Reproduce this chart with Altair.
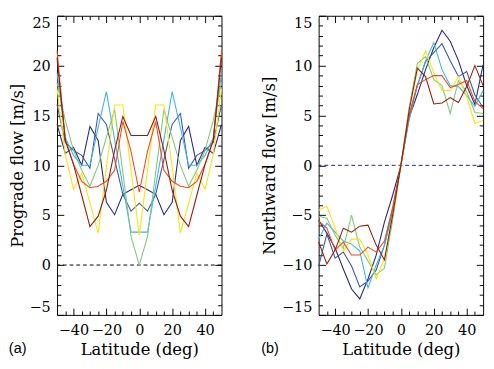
import altair as alt
import pandas as pd

LAT = [-50, -45, -40, -35, -30, -25, -20, -15, -10, -5, 0,
       5, 10, 15, 20, 25, 30, 35, 40, 45, 50]
SERIES = ["c1", "c2", "c3", "c4", "c5", "c6", "c7"]
COLORS = ["#262673", "#3b55a8", "#3cb4e6", "#7fc67f", "#fbe212", "#ee4a1e", "#8f1c0c"]

# Panel (a): prograde flow [m/s]
PRO_1 = [14.1, 11.2, 11.8, 10.0, 13.9, 12.5, 6.3, 5.05, 7.1, 7.55, 8.0,
         7.55, 7.1, 5.05, 6.3, 12.5, 13.9, 10.0, 11.8, 11.2, 14.1]
PRO_2 = [16.1, 12.3, 11.5, 11.0, 9.7, 15.2, 14.1, 10.6, 7.1, 5.4, 6.2,
         5.4, 7.1, 10.6, 14.1, 15.2, 9.7, 11.0, 11.5, 12.3, 16.1]
PRO_3 = [19.3, 12.8, 11.0, 10.0, 10.0, 13.8, 17.4, 12.6, 7.9, 3.3, 3.3,
         3.3, 7.9, 12.6, 17.4, 13.8, 10.0, 10.0, 11.0, 12.8, 19.3]
PRO_4 = [18.3, 14.5, 11.5, 9.5, 7.9, 10.0, 12.8, 15.6, 9.3, 2.85, 0.0,
         2.85, 9.3, 15.6, 12.8, 10.0, 7.9, 9.5, 11.5, 14.5, 18.3]
PRO_5 = [17.7, 11.1, 7.6, 9.2, 6.2, 3.2, 9.8, 16.05, 16.05, 9.5, 3.0,
         9.5, 16.05, 16.05, 9.8, 3.2, 6.2, 9.2, 7.6, 11.1, 17.7]
PRO_6 = [21.5, 12.6, 10.1, 8.4, 7.75, 7.9, 8.4, 9.5, 14.4, 11.4, 7.3,
         11.4, 14.4, 9.5, 8.4, 7.9, 7.75, 8.4, 10.1, 12.6, 21.5]
PRO_7 = [20.8, 12.5, 10.1, 7.0, 3.85, 4.9, 7.5, 11.5, 14.9, 13.0, 13.0,
         13.0, 14.9, 11.5, 7.5, 4.9, 3.85, 7.0, 10.1, 12.5, 20.8]

# Panel (b): northward flow [m/s]
NOR_1 = [-5.5, -6.8, -8.3, -10.4, -12.4, -13.4, -11.4, -9.0, -5.7, -3.0, 0.0,
         4.8, 7.1, 9.6, 11.8, 13.55, 12.45, 10.5, 8.0, 6.1, 10.1]
NOR_2 = [-10.1, -6.9, -9.3, -8.7, -10.1, -12.2, -11.6, -10.5, -8.0, -4.5, 0.0,
         5.0, 8.0, 10.4, 11.3, 12.2, 10.5, 8.9, 9.4, 7.05, 5.8]
NOR_3 = [-7.4, -5.8, -6.7, -7.6, -7.9, -8.6, -12.3, -10.0, -8.0, -4.8, 0.0,
         4.5, 8.0, 10.5, 12.3, 9.6, 8.0, 7.9, 7.0, 5.9, 7.5]
NOR_4 = [-5.1, -5.3, -7.0, -8.3, -5.0, -8.2, -9.6, -11.0, -10.3, -5.5, 0.0,
         5.8, 10.2, 10.9, 8.6, 8.0, 5.2, 8.5, 7.4, 5.3, 5.2]
NOR_5 = [-4.5, -4.1, -6.3, -8.6, -7.4, -7.4, -9.0, -11.4, -9.3, -5.0, 0.0,
         5.5, 9.5, 11.5, 9.3, 7.5, 7.5, 8.9, 6.9, 4.2, 4.5]
NOR_6 = [-5.6, -6.3, -8.5, -7.7, -9.0, -9.0, -8.2, -8.7, -7.6, -4.2, 0.0,
         5.0, 8.1, 8.6, 9.0, 9.0, 7.8, 8.1, 8.5, 6.4, 5.7]
NOR_7 = [-7.7, -9.9, -8.5, -6.3, -6.7, -6.1, -6.0, -8.0, -9.5, -5.0, 0.0,
         5.5, 9.75, 8.9, 6.15, 6.25, 6.8, 6.3, 7.9, 10.0, 8.0]

X_MAJOR = [-40, -20, 0, 20, 40]
X_MINOR = [-45, -35, -30, -25, -15, -10, -5, 5, 10, 15, 25, 30, 35, 45]

SERIF = "DejaVu Serif"
SANS = "Liberation Sans"
W, H = 171, 311
MAJ, MIN = 7, 4


def long_df(series_vals):
    rows = []
    for name, vals in zip(SERIES, series_vals):
        for la, v in zip(LAT, vals):
            rows.append({"lat": la, "v": v, "series": name})
    return pd.DataFrame(rows)


def axis(orient, values, size, labels=False, title=None, flush=False, lpad=7):
    kw = dict(orient=orient, values=values, tickSize=size, offset=-size,
              grid=False, domain=False, tickColor="black", tickWidth=1,
              labels=labels, title=title)
    if labels:
        kw.update(labelFont=SERIF, labelFontSize=15, labelColor="black",
                  labelPadding=lpad)
        if flush:
            kw.update(labelFlush=True)
    if title is not None:
        kw.update(titleFont=SERIF, titleFontSize=17, titleFontWeight="normal",
                  titleColor="black", titlePadding=3 if orient == "left" else 5)
    return alt.Axis(**kw)


def panel(df, ydom, ymaj, ymin, ytitle, zero_color, tag):
    xs = alt.Scale(domain=[-50, 50], nice=False, zero=False)
    ys = alt.Scale(domain=ydom, nice=False, zero=False)
    base = alt.Chart(df)
    lines = base.mark_line(strokeWidth=1.1).encode(
        x=alt.X("lat:Q", scale=xs,
                axis=axis("bottom", X_MAJOR, MAJ, labels=True,
                          title="Latitude (deg)", lpad=8)),
        y=alt.Y("v:Q", scale=ys,
                axis=axis("left", ymaj, MAJ, labels=True, title=ytitle, flush=True)),
        color=alt.Color("series:N", scale=alt.Scale(domain=SERIES, range=COLORS),
                        legend=None),
        detail="series:N",
    )
    ghost1 = base.mark_point(opacity=0, size=1).encode(
        x=alt.X("lat:Q", scale=xs, axis=axis("bottom", X_MINOR, MIN)),
        y=alt.Y("v:Q", scale=ys, axis=axis("left", ymin, MIN)),
    )
    ghost2 = base.mark_point(opacity=0, size=1).encode(
        x=alt.X("lat:Q", scale=xs, axis=axis("top", X_MAJOR, MAJ)),
        y=alt.Y("v:Q", scale=ys, axis=axis("right", ymaj, MAJ)),
    )
    ghost3 = base.mark_point(opacity=0, size=1).encode(
        x=alt.X("lat:Q", scale=xs, axis=axis("top", X_MINOR, MIN)),
        y=alt.Y("v:Q", scale=ys, axis=axis("right", ymin, MIN)),
    )
    zero = alt.Chart(pd.DataFrame({"z": [0]})).mark_rule(
        color=zero_color, strokeWidth=1, strokeDash=[4, 3]
    ).encode(y=alt.Y("z:Q", scale=ys, axis=None))
    return alt.layer(zero, lines, ghost1, ghost2, ghost3).resolve_axis(
        x="independent", y="independent"
    ).properties(
        width=W, height=H,
        title=alt.TitleParams(tag, orient="bottom", anchor="start", frame="bounds",
                              offset=-16, font=SANS, fontSize=15,
                              fontWeight="normal", color="black"),
    )


left = panel(long_df([PRO_1, PRO_2, PRO_3, PRO_4, PRO_5, PRO_6, PRO_7]),
             [-5, 25], [-5, 0, 5, 10, 15, 20, 25],
             [v for v in range(-5, 26) if v % 5 != 0],
             "Prograde flow [m/s]", "black", "(a)")
right = panel(long_df([NOR_1, NOR_2, NOR_3, NOR_4, NOR_5, NOR_6, NOR_7]),
              [-15, 15], [-15, -10, -5, 0, 5, 10, 15],
              [v for v in range(-15, 16) if v % 5 != 0],
              "Northward flow [m/s]", "#1c1c80", "(b)")

chart = alt.hconcat(left, right, spacing=37).properties(padding=0).configure_view(
    stroke="black", strokeWidth=1
)

chart.save("out.html", embed_options={"renderer": "svg", "actions": False})
